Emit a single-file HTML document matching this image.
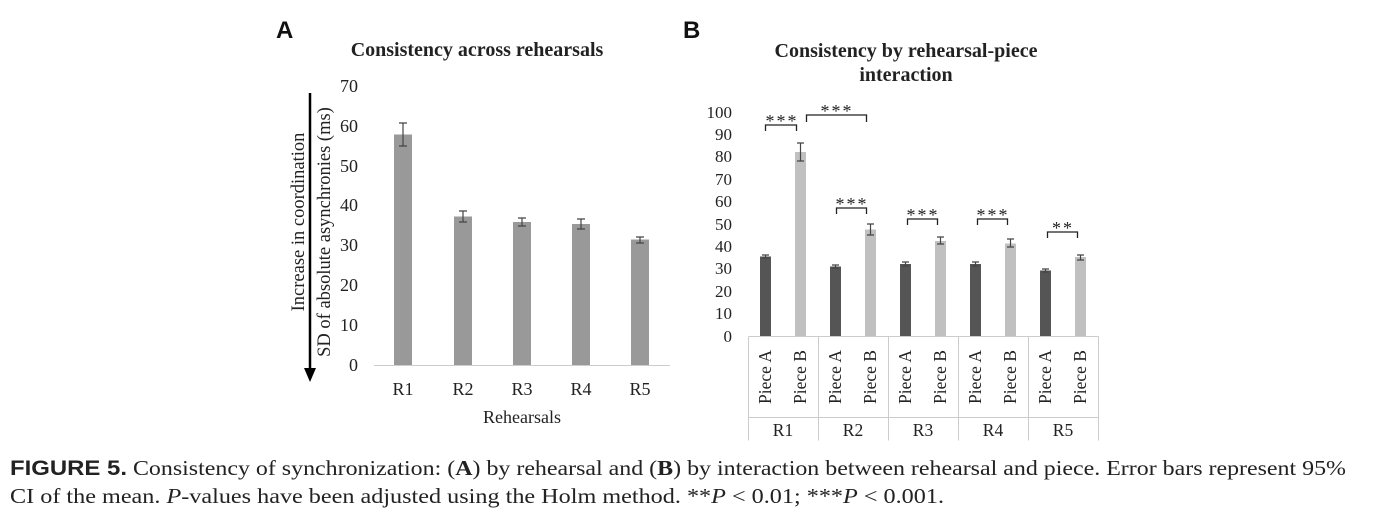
<!DOCTYPE html>
<html><head><meta charset="utf-8"><style>
body{margin:0;background:#fff;}
svg{display:block;}
.s{font-family:"Liberation Serif",serif;fill:#222;}
</style></head><body>
<svg width="1380" height="514" viewBox="0 0 1380 514" xmlns="http://www.w3.org/2000/svg">
<!-- Panel A -->
<text x="276" y="38" font-family="Liberation Sans,sans-serif" font-weight="bold" font-size="24" fill="#111">A</text>
<text class="s" x="477" y="56" font-size="20" font-weight="bold" text-anchor="middle">Consistency across rehearsals</text>
<g class="s" font-size="18" text-anchor="end">
<text x="358" y="371">0</text><text x="358" y="331">10</text><text x="358" y="291">20</text><text x="358" y="251">30</text><text x="358" y="211">40</text><text x="358" y="172">50</text><text x="358" y="132">60</text><text x="358" y="92">70</text>
</g>
<line x1="374" y1="365.5" x2="670" y2="365.5" stroke="#ccc" stroke-width="1"/>
<g fill="#999">
<rect x="394" y="134.5" width="18" height="230.5"/>
<rect x="454" y="216.5" width="18" height="148.5"/>
<rect x="513" y="222" width="18" height="143"/>
<rect x="572" y="224" width="18" height="141"/>
<rect x="631" y="239.5" width="18" height="125.5"/>
</g>
<g stroke="#444" stroke-width="1.2" fill="none">
<path d="M403 123v23M399 123h8M399 146h8"/>
<path d="M463 211v11M459 211h8M459 222h8"/>
<path d="M522 218v8M518 218h8M518 226h8"/>
<path d="M581 219v10M577 219h8M577 229h8"/>
<path d="M640 237v6M636 237h8M636 243h8"/>
</g>
<g class="s" font-size="18" text-anchor="middle">
<text x="403" y="395">R1</text><text x="463" y="395">R2</text><text x="522" y="395">R3</text><text x="581" y="395">R4</text><text x="640" y="395">R5</text>
<text x="522" y="423">Rehearsals</text>
</g>
<line x1="310" y1="93" x2="310" y2="370" stroke="#000" stroke-width="2.5"/>
<path d="M304 368 L316 368 L310 382 Z" fill="#000"/>
<text class="s" font-size="18.5" text-anchor="middle" transform="translate(304,222) rotate(-90)">Increase in coordination</text>
<text class="s" font-size="18.5" text-anchor="middle" transform="translate(330,232) rotate(-90)">SD of absolute asynchronies (ms)</text>

<!-- Panel B -->
<text x="683" y="38" font-family="Liberation Sans,sans-serif" font-weight="bold" font-size="24" fill="#111">B</text>
<text class="s" x="906" y="57" font-size="20" font-weight="bold" text-anchor="middle">Consistency by rehearsal-piece</text>
<text class="s" x="906" y="81" font-size="20" font-weight="bold" text-anchor="middle">interaction</text>
<g class="s" font-size="17" text-anchor="end">
<text x="732" y="342">0</text><text x="732" y="319">10</text><text x="732" y="297">20</text><text x="732" y="274">30</text><text x="732" y="252">40</text><text x="732" y="230">50</text><text x="732" y="207">60</text><text x="732" y="185">70</text><text x="732" y="162">80</text><text x="732" y="140">90</text><text x="732" y="118">100</text>
</g>
<g fill="none" stroke="#ccc" stroke-width="1">
<path d="M748.5 336.5h350M748.5 336.5v104M818.5 336.5v104M888.5 336.5v104M958.5 336.5v104M1028.5 336.5v104M1098.5 336.5v104M748.5 417.5h350"/>
</g>
<g fill="#555">
<rect x="760" y="256.5" width="11" height="79.5"/>
<rect x="830" y="266.5" width="11" height="69.5"/>
<rect x="900" y="264" width="11" height="72"/>
<rect x="970" y="264" width="11" height="72"/>
<rect x="1040" y="270.5" width="11" height="65.5"/>
</g>
<g fill="#c0c0c0">
<rect x="795" y="152" width="11" height="184"/>
<rect x="865" y="229.5" width="11" height="106.5"/>
<rect x="935" y="241" width="11" height="95"/>
<rect x="1005" y="243.5" width="11" height="92.5"/>
<rect x="1075" y="257" width="11" height="79"/>
</g>
<g stroke="#444" stroke-width="1.2" fill="none">
<path d="M765.5 255v3M762 255h7M762 258h7"/>
<path d="M835.5 265v3M832 265h7M832 268h7"/>
<path d="M905.5 262v4M902 262h7M902 266h7"/>
<path d="M975.5 262v4M972 262h7M972 266h7"/>
<path d="M1045.5 269v3M1042 269h7M1042 272h7"/>
<path d="M800.5 143v18M797 143h7M797 161h7"/>
<path d="M870.5 224v11M867 224h7M867 235h7"/>
<path d="M940.5 237v7M937 237h7M937 244h7"/>
<path d="M1010.5 239v8M1007 239h7M1007 247h7"/>
<path d="M1080.5 255v5M1077 255h7M1077 260h7"/>
</g>
<g stroke="#222" stroke-width="1.3" fill="none">
<path d="M765.5 131v-6h31v6"/>
<path d="M806.5 122v-7h60v7"/>
<path d="M836.5 214v-6h30v6"/>
<path d="M907.5 225v-6h30v6"/>
<path d="M977.5 225v-6h30v6"/>
<path d="M1047.5 238v-6h30v6"/>
</g>
<g class="s" font-size="18" text-anchor="middle" letter-spacing="2">
<text x="782" y="127">***</text><text x="837" y="117">***</text><text x="852" y="210">***</text><text x="923" y="221">***</text><text x="993" y="221">***</text><text x="1063" y="234">**</text>
</g>
<g class="s" font-size="17.5" text-anchor="middle">
<text transform="translate(771,377) rotate(-90)">Piece A</text><text transform="translate(806,377) rotate(-90)">Piece B</text>
<text transform="translate(841,377) rotate(-90)">Piece A</text><text transform="translate(876,377) rotate(-90)">Piece B</text>
<text transform="translate(911,377) rotate(-90)">Piece A</text><text transform="translate(946,377) rotate(-90)">Piece B</text>
<text transform="translate(981,377) rotate(-90)">Piece A</text><text transform="translate(1016,377) rotate(-90)">Piece B</text>
<text transform="translate(1051,377) rotate(-90)">Piece A</text><text transform="translate(1086,377) rotate(-90)">Piece B</text>
<text x="783" y="436">R1</text><text x="853" y="436">R2</text><text x="923" y="436">R3</text><text x="993" y="436">R4</text><text x="1063" y="436">R5</text>
</g>

<!-- Caption -->
<text x="10" y="475" font-size="21" class="s" textLength="1336" lengthAdjust="spacingAndGlyphs"><tspan font-family="Liberation Sans,sans-serif" font-weight="bold">FIGURE 5.</tspan>  Consistency of synchronization: (<tspan font-weight="bold">A</tspan>) by rehearsal and (<tspan font-weight="bold">B</tspan>) by interaction between rehearsal and piece. Error bars represent 95%</text>
<text x="10" y="503" font-size="21" class="s" textLength="934" lengthAdjust="spacingAndGlyphs">CI of the mean. <tspan font-style="italic">P</tspan>-values have been adjusted using the Holm method. **<tspan font-style="italic">P</tspan> &lt; 0.01;  ***<tspan font-style="italic">P</tspan> &lt; 0.001.</text>
</svg>
</body></html>
